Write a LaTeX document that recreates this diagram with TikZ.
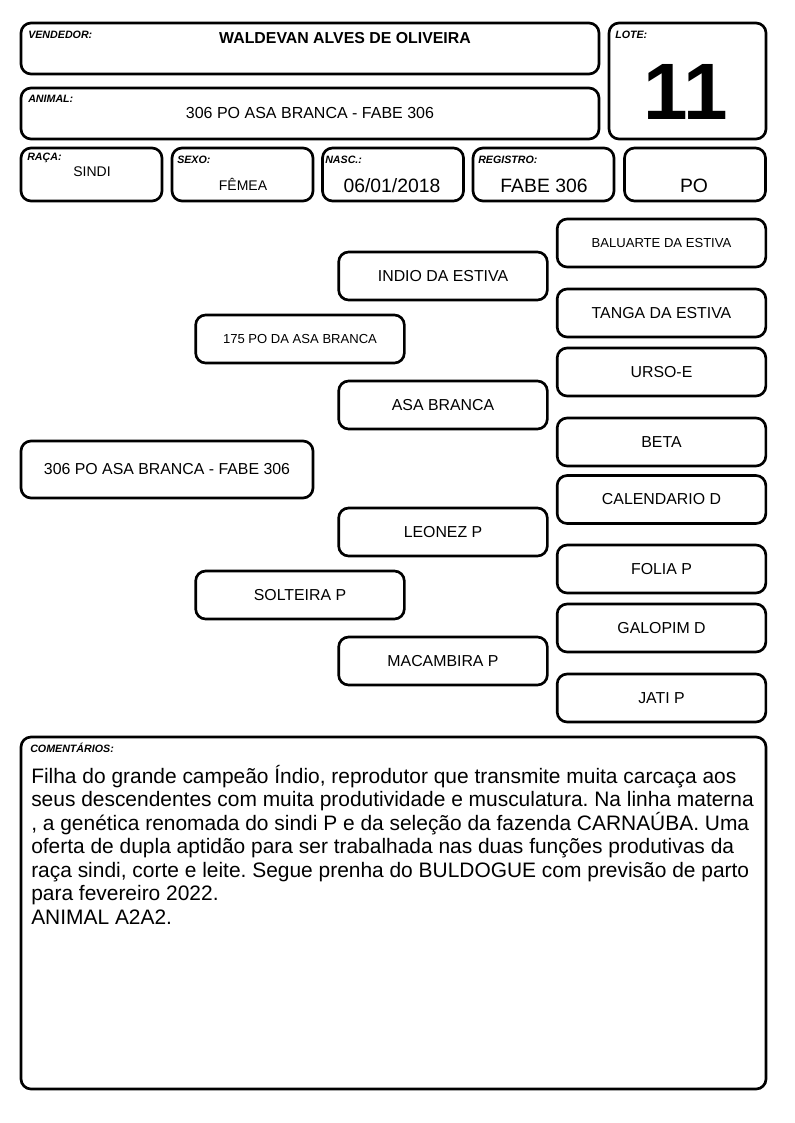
\documentclass[tikz,border=0pt]{standalone}
\usepackage{fontspec}
\setmainfont{Liberation Sans}
\usetikzlibrary{%
  positioning,%
  shapes.misc%
}
\frenchspacing

\begin{document}
\begin{tikzpicture}[
    x=0.75pt,y=-0.75pt,
    line join=round,line cap=round,
    box/.style={rectangle,draw,line width=2pt,rounded corners=7.5pt,
        inner sep=0pt,fill=white},
    headbox/.style={box,minimum width=433.5pt,minimum height=38.25pt},
    smallbox/.style={box,minimum width=105.75pt,minimum height=39.75pt},
    pedbox/.style={box,minimum width=156.5pt,minimum height=36pt,
        font=\fontsize{11.9}{13}\selectfont},
    pedsmall/.style={pedbox,font=\fontsize{9.8}{11}\selectfont},
    tag/.style={anchor=west,inner sep=0pt,
        font=\fontsize{8}{9}\selectfont\bfseries\itshape},
    value/.style={inner sep=0pt,font=\fontsize{12}{13}\selectfont},
    bigvalue/.style={inner sep=0pt,font=\fontsize{14.5}{16}\selectfont}
  ]
    \useasboundingbox (0,0) rectangle (794,1123);

    % cabecalho
    \node [headbox] (vendedor) at (310,48.5) {};
    \node [tag] (vendedortag) at (28,35) {VENDEDOR:};
    \node [value,font=\fontsize{11.9}{13}\selectfont\bfseries] (vendedorname) at (345,38) {WALDEVAN ALVES DE OLIVEIRA};

    \node [headbox] (animal) at (310,113.5) {};
    \node [tag] (animaltag) at (28,99) {ANIMAL:};
    \node [value] (animalname) at (310,113) {306 PO ASA BRANCA - FABE 306};

    \node [box,minimum width=117.75pt,minimum height=87pt] (lote) at (687.5,81) {};
    \node [tag] (lotetag) at (615,35) {LOTE:};
    \node [inner sep=0pt,font=\fontsize{60}{60}\selectfont\bfseries] (lotenum) at (686,92) {11};

    \node [smallbox] (raca) at (91.5,174.5) {};
    \node [tag] (racatag) at (27,158) {RAÇA:};
    \node [value,font=\fontsize{10.5}{12}\selectfont] (racaval) at (92,172) {SINDI};

    \node [smallbox] (sexo) at (242.5,174.5) {};
    \node [tag] (sexotag) at (177,160) {SEXO:};
    \node [value,font=\fontsize{10.5}{12}\selectfont] (sexoval) at (243,184) {FÊMEA};

    \node [smallbox] (nasc) at (393,174.5) {};
    \node [tag] (nasctag) at (325,160) {NASC.:};
    \node [bigvalue] (nascval) at (392,186) {06/01/2018};

    \node [smallbox] (registro) at (543.5,174.5) {};
    \node [tag] (registrotag) at (478,160) {REGISTRO:};
    \node [bigvalue] (registroval) at (544,186) {FABE 306};

    \node [smallbox] (categoria) at (695,174.5) {};
    \node [bigvalue] (categoriaval) at (694,186) {PO};

    % genealogia
    \node [pedbox,minimum width=219pt,minimum height=42.75pt] (animalped) at (167,469.5) {306 PO ASA BRANCA - FABE 306};

    \node [pedsmall] (pai) at (300,339) {175 PO DA ASA BRANCA};
    \node [pedbox] (mae) at (300,595) {SOLTEIRA P};

    \node [pedbox] (avopp) at (443,276) {INDIO DA ESTIVA};
    \node [pedbox] (avopm) at (443,405) {ASA BRANCA};
    \node [pedbox] (avomp) at (443,532) {LEONEZ P};
    \node [pedbox] (avomm) at (443,661) {MACAMBIRA P};

    \node [pedsmall] (bisa1) at (661.5,243) {BALUARTE DA ESTIVA};
    \node [pedbox] (bisa2) at (661.5,313) {TANGA DA ESTIVA};
    \node [pedbox] (bisa3) at (661.5,372) {URSO-E};
    \node [pedbox] (bisa4) at (661.5,442) {BETA};
    \node [pedbox] (bisa5) at (661.5,499.5) {CALENDARIO D};
    \node [pedbox] (bisa6) at (661.5,569) {FOLIA P};
    \node [pedbox] (bisa7) at (661.5,628) {GALOPIM D};
    \node [pedbox] (bisa8) at (661.5,698) {JATI P};

    % comentarios
    \node [box,minimum width=558.75pt,minimum height=264pt] (comentarios) at (393.5,913) {};
    \node [tag] (comentariostag) at (30,748) {COMENTÁRIOS:};
    \node [anchor=north west,inner sep=0pt,align=left,
        font=\fontsize{15.7}{17.6}\selectfont] (comentariostext) at (31,765)
        {Filha do grande campeão Índio, reprodutor que transmite muita carcaça aos\\
         seus descendentes com muita produtividade e musculatura. Na linha materna\\
         , a genética renomada do sindi P e da seleção da fazenda CARNAÚBA. Uma\\
         oferta de dupla aptidão para ser trabalhada nas duas funções produtivas da\\
         raça sindi, corte e leite. Segue prenha do BULDOGUE com previsão de parto\\
         para fevereiro 2022.\\
         ANIMAL A2A2.};
\end{tikzpicture}
\end{document}
